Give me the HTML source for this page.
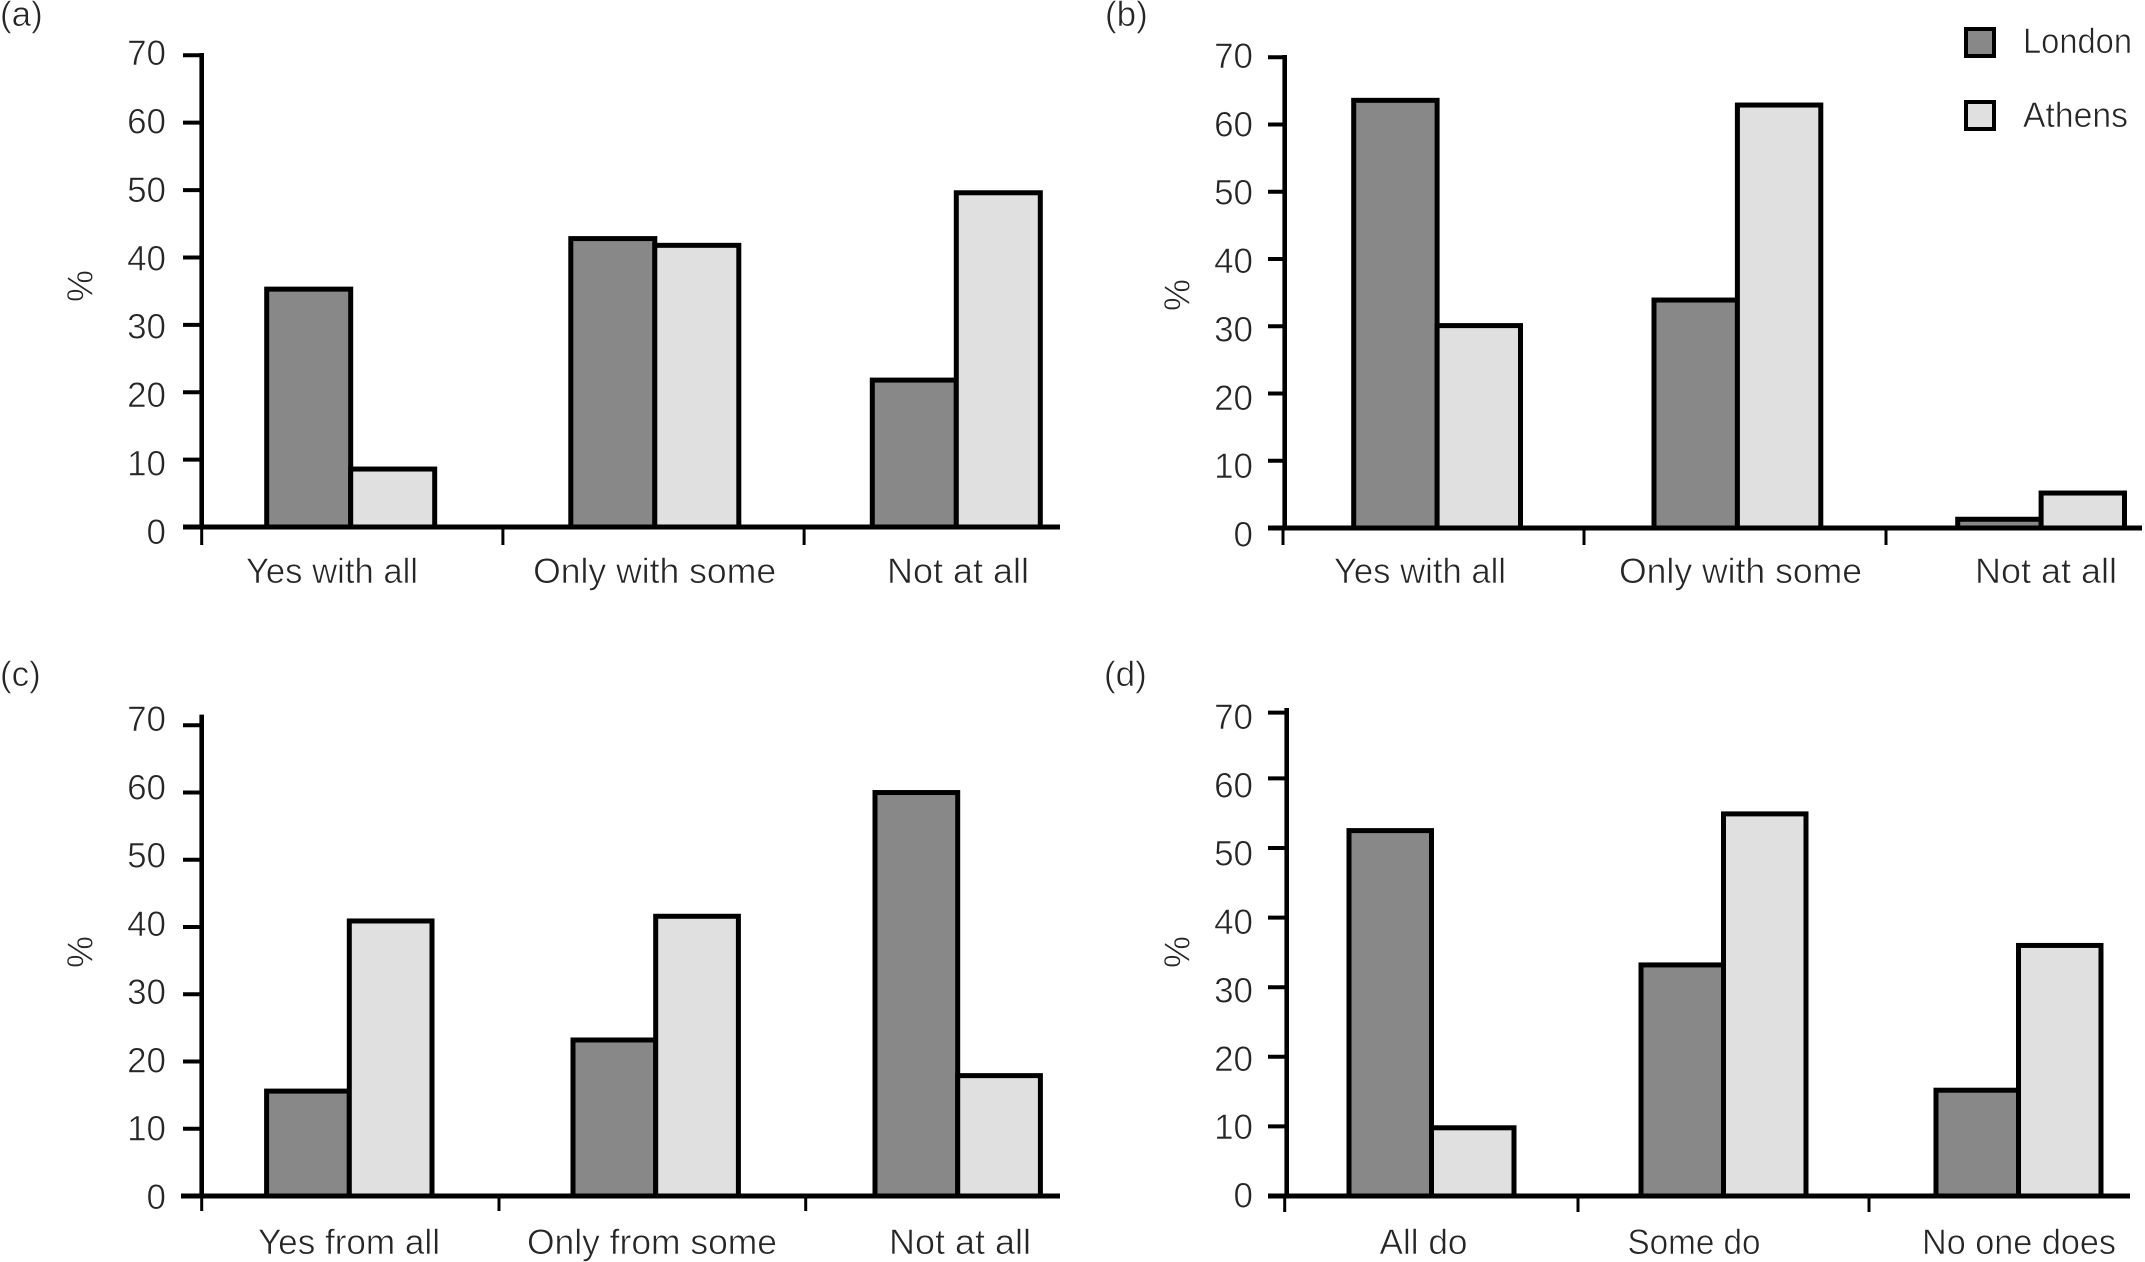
<!DOCTYPE html>
<html lang="en">
<head>
<meta charset="utf-8">
<title>London and Athens survey responses</title>
<style>
  html, body { margin: 0; padding: 0; background: #fff; }
  svg { display: block; }
  text { font-family: "Liberation Sans", sans-serif; font-size: 35px; fill: #262626; stroke: #fff; stroke-width: 0.6px; }
</style>
</head>
<body>
<svg id="chart" xmlns="http://www.w3.org/2000/svg" width="2145" height="1262" viewBox="0 0 2145 1262"></svg>
<script>
const yTickLabels = [0, 10, 20, 30, 40, 50, 60, 70];

const categoriesA = ["Yes with all", "Only with some", "Not at all"];
const londonA = [35.3, 42.8, 21.8];
const athensA = [8.6, 41.8, 49.6];

const categoriesB = ["Yes with all", "Only with some", "Not at all"];
const londonB = [63.6, 33.9, 1.3];
const athensB = [30.1, 62.9, 5.2];

const categoriesC = ["Yes from all", "Only from some", "Not at all"];
const londonC = [15.6, 23.2, 60.0];
const athensC = [40.9, 41.6, 17.9];

const categoriesD = ["All do", "Some do", "No one does"];
const londonD = [52.5, 33.2, 15.2];
const athensD = [9.8, 54.9, 36.0];

const COLOR_LONDON = "#888888";
const COLOR_ATHENS = "#e0e0e0";

const panels = [
  { id: "a", title: "(a)", cats: categoriesA, london: londonA, athens: athensA,
    titleX: 0, titleY: 26, axisX: 201.7, axisTop: 53, y0: 527, y70: 55.3, xStart: 183, xEnd: 1060,
    bandW: 301.2, tickBottom: 545, barW: 84, nudge: [65, 67.9, 68.2], tickNudge: [0, 0, 0], topTickNudge: 0,
    labelX: [332, 654.6, 958], labelY: 583,
    numRight: 166, numY0: 544, numY70: 65, pctX: 80, pctY: 286, tickL: 183, widths: [172, 243, 142] },
  { id: "b", title: "(b)", cats: categoriesB, london: londonB, athens: athensB,
    titleX: 1105, titleY: 26, axisX: 1284.7, axisTop: 55, y0: 528, y70: 57.3, xStart: 1268, xEnd: 2142,
    bandW: 301.5, tickBottom: 545, barW: 83.4, nudge: [69, 67.8, 70], tickNudge: [-1.7, -2.2, -1.7], topTickNudge: 0,
    labelX: [1420, 1740.5, 2046], labelY: 583,
    numRight: 1253, numY0: 546.5, numY70: 68, pctX: 1177, pctY: 295, tickL: 1268, widths: [172, 243, 142] },
  { id: "c", title: "(c)", cats: categoriesC, london: londonC, athens: athensC,
    titleX: 0, titleY: 686, axisX: 201.7, axisTop: 714.6, y0: 1196, y70: 725.3, xStart: 181, xEnd: 1060,
    bandW: 302, tickBottom: 1211, barW: 82.7, nudge: [64.9, 69.3, 69.3], tickNudge: [0, -4.7, 0], topTickNudge: 0,
    labelX: [349, 652, 960], labelY: 1254,
    numRight: 166, numY0: 1209, numY70: 731, pctX: 80, pctY: 952, tickL: 183, widths: [182, 250, 142] },
  { id: "d", title: "(d)", cats: categoriesD, london: londonD, athens: athensD,
    titleX: 1104, titleY: 686, axisX: 1286.7, axisTop: 708, y0: 1196, y70: 708.8, xStart: 1268, xEnd: 2130,
    bandW: 292, tickBottom: 1212, barW: 82.5, nudge: [62.3, 62.3, 65.3], tickNudge: [-2, -0.7, -1.7], topTickNudge: 3.8,
    labelX: [1423.5, 1694, 2019], labelY: 1254,
    numRight: 1253, numY0: 1207.5, numY70: 729, pctX: 1177, pctY: 952, tickL: 1268, widths: [88, 133, 194] }
];

const SVG_NS = "http://www.w3.org/2000/svg";
const svg = document.getElementById("chart");

function make(tag, attrs, parent) {
  const el = document.createElementNS(SVG_NS, tag);
  for (const k in attrs) el.setAttribute(k, attrs[k]);
  parent.appendChild(el);
  return el;
}

function drawPanel(p) {
  const g = make("g", {}, svg);
  
  

  const yScale = v => p.y0 + (p.y70 - p.y0) * v / 70;
  const bandX = i => p.axisX + i * p.bandW;
  const numY = v => p.numY0 + (p.numY70 - p.numY0) * v / 70;

  const title = make("text", { x: p.titleX, y: p.titleY }, g);
  title.textContent = p.title;
  
  

  p.cats.forEach((cat, i) => {
    const left = bandX(i) + p.nudge[i];
    [[p.london[i], COLOR_LONDON, 'london', 0], [p.athens[i], COLOR_ATHENS, 'athens', 1]].forEach(s => {
      const top = yScale(s[0]);
      const bar = make("rect", {
        x: left + s[3] * p.barW, y: top, width: p.barW, height: p.y0 - top,
        fill: s[1], stroke: "#000", "stroke-width": 5
      }, g);
      
      
    });
  });

  const yAxis = make("line", { x1: p.axisX, x2: p.axisX, y1: p.axisTop, y2: p.y0, stroke: "#000", "stroke-width": 4.6 }, g);
  
  

  const xAxis = make("line", { x1: p.xStart, x2: p.xEnd, y1: p.y0, y2: p.y0, stroke: "#000", "stroke-width": 5 }, g);
  
  

  yTickLabels.forEach(v => {
    const y = yScale(v) + (v === 70 ? p.topTickNudge : 0);
    const tick = make("line", { x1: p.tickL, x2: p.axisX, y1: y, y2: y, stroke: "#000", "stroke-width": 4 }, g);
    
    
    const label = make("text", { x: p.numRight, y: numY(v), "text-anchor": "end" }, g);
    label.textContent = String(v);
    
    
  });

  p.cats.forEach((cat, i) => {
    const x = bandX(i) + p.tickNudge[i];
    const tick = make("line", { x1: x, x2: x, y1: p.y0, y2: p.tickBottom, stroke: "#000", "stroke-width": 3 }, g);
    
    
    const label = make("text", {
      x: p.labelX[i], y: p.labelY, "text-anchor": "middle",
      textLength: p.widths[i], lengthAdjust: "spacingAndGlyphs"
    }, g);
    label.textContent = cat;
    
    
  });

  const pct = make("text", {
    x: p.pctX, y: p.pctY, "text-anchor": "middle", "dominant-baseline": "central",
    transform: "rotate(-90 " + p.pctX + " " + p.pctY + ")", style: "font-size:36px"
  }, g);
  pct.textContent = "%";
  
  
}

panels.forEach(drawPanel);

const legend = make("g", {}, svg);



const londonSwatch = make("rect", { x: 1966, y: 29, width: 28, height: 27, fill: COLOR_LONDON, stroke: "#000", "stroke-width": 4 }, legend);


const londonText = make("text", { x: 2023, y: 53, textLength: 109, lengthAdjust: "spacingAndGlyphs" }, legend);
londonText.textContent = "London";



const athensSwatch = make("rect", { x: 1966, y: 102, width: 28, height: 27, fill: COLOR_ATHENS, stroke: "#000", "stroke-width": 4 }, legend);


const athensText = make("text", { x: 2023, y: 127, textLength: 105, lengthAdjust: "spacingAndGlyphs" }, legend);
athensText.textContent = "Athens";


</script>
</body>
</html>
